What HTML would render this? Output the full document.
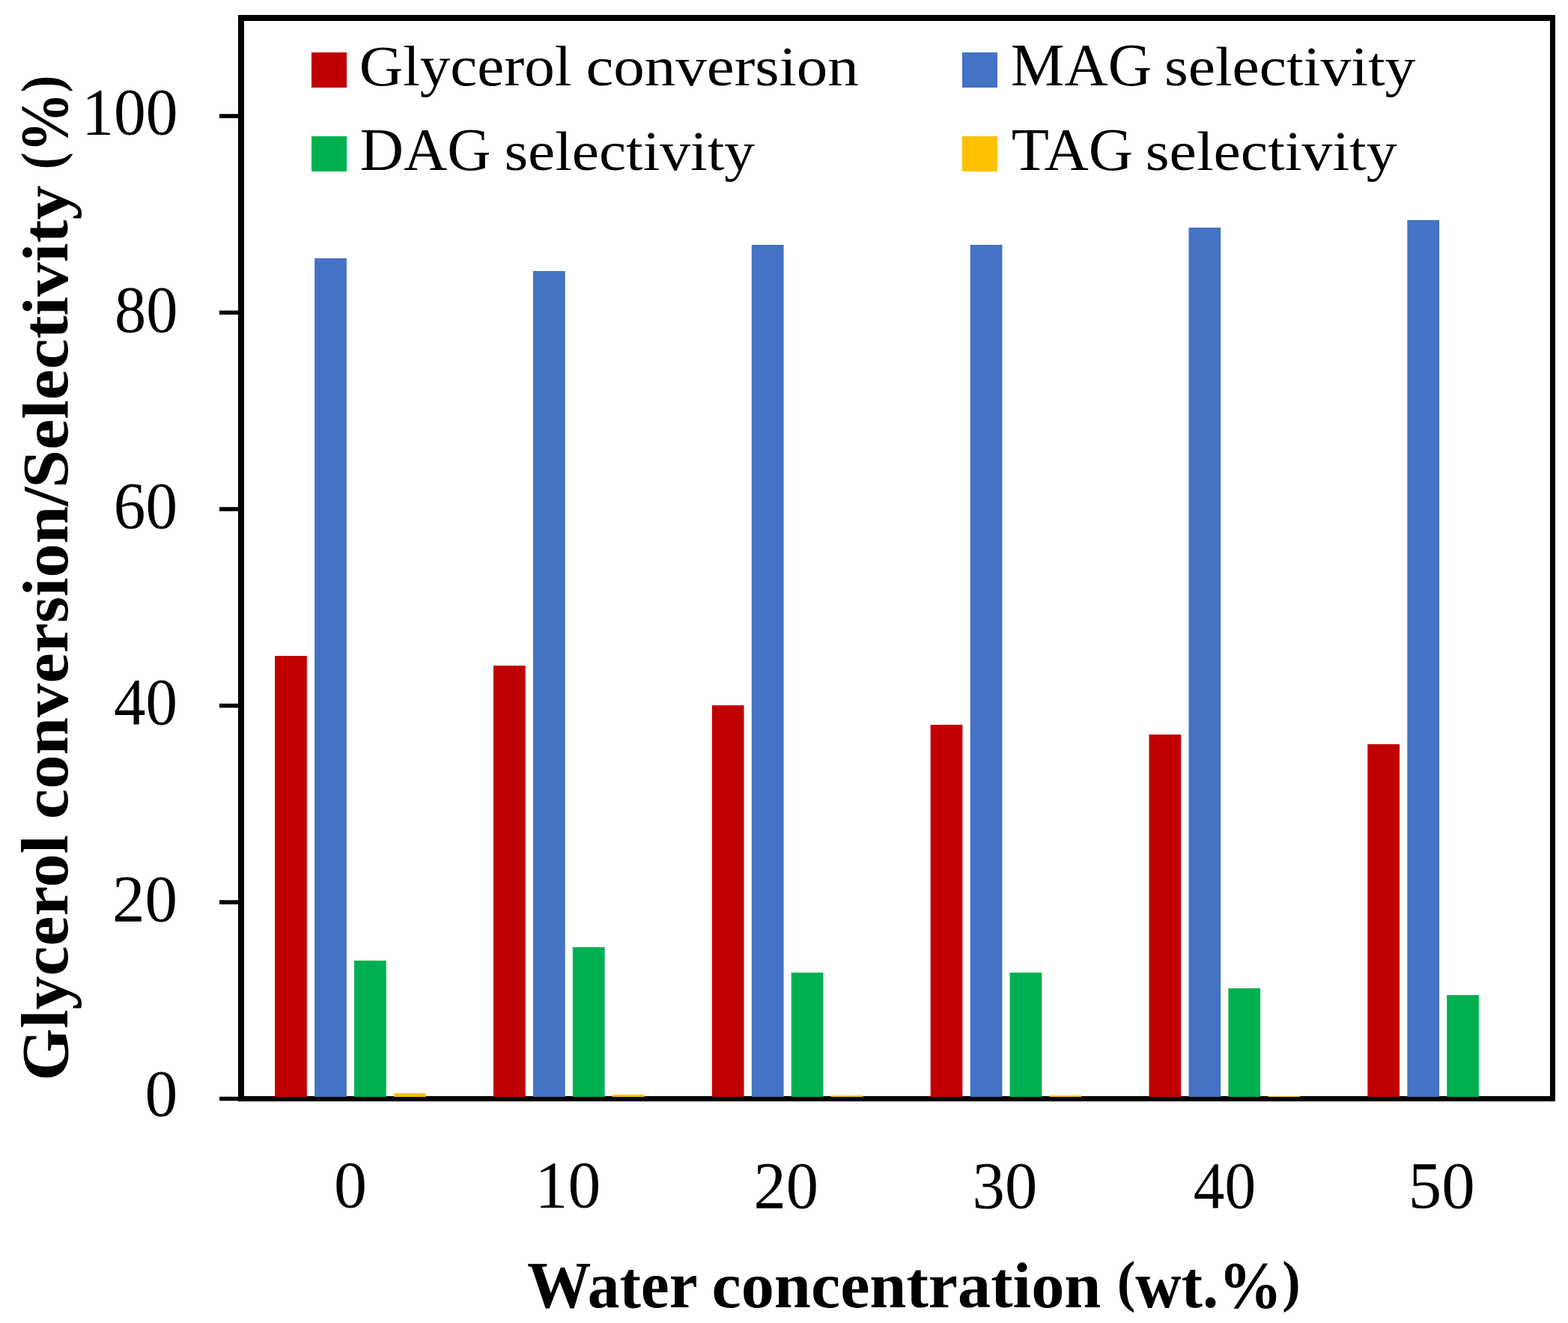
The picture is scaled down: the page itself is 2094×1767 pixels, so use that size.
<!DOCTYPE html>
<html><head><meta charset="utf-8"><title>Glycerol conversion / selectivity vs water concentration</title>
<style>html,body{margin:0;padding:0;background:#fff;} body{width:2094px;height:1767px;overflow:hidden;} svg{display:block;}</style>
</head><body>
<svg width="2094" height="1767" viewBox="0 0 2094 1767">
<rect x="0" y="0" width="2094" height="1767" fill="#fff"/>
<g fill="#000">
<rect x="318" y="20" width="1759" height="8"/>
<rect x="318" y="20" width="8" height="1451"/>
<rect x="2070" y="20" width="7" height="1451"/>
<rect x="318" y="1464" width="1759" height="7"/>
<rect x="293" y="1464.75" width="27" height="5.5"/>
<rect x="293" y="1202.25" width="27" height="5.5"/>
<rect x="293" y="939.75" width="27" height="5.5"/>
<rect x="293" y="677.25" width="27" height="5.5"/>
<rect x="293" y="414.75" width="27" height="5.5"/>
<rect x="293" y="152.25" width="27" height="5.5"/>
</g>
<g fill="#C00000">
<rect x="367.10" y="876" width="42.75" height="589"/>
<rect x="658.95" y="889" width="42.75" height="576"/>
<rect x="950.80" y="942" width="42.75" height="523"/>
<rect x="1242.65" y="968" width="42.75" height="497"/>
<rect x="1534.50" y="981" width="42.75" height="484"/>
<rect x="1826.35" y="994" width="42.75" height="471"/>
</g>
<g fill="#4472C4">
<rect x="420.10" y="345" width="42.75" height="1120"/>
<rect x="711.95" y="362" width="42.75" height="1103"/>
<rect x="1003.80" y="327" width="42.75" height="1138"/>
<rect x="1295.65" y="327" width="42.75" height="1138"/>
<rect x="1587.50" y="304" width="42.75" height="1161"/>
<rect x="1879.35" y="294" width="42.75" height="1171"/>
</g>
<g fill="#00B050">
<rect x="473.00" y="1283" width="42.75" height="182"/>
<rect x="764.85" y="1265" width="42.75" height="200"/>
<rect x="1056.70" y="1299" width="42.75" height="166"/>
<rect x="1348.55" y="1299" width="42.75" height="166"/>
<rect x="1640.40" y="1320" width="42.75" height="145"/>
<rect x="1932.25" y="1329" width="42.75" height="136"/>
</g>
<g fill="#FFC000">
<rect x="526.00" y="1460" width="42.75" height="5"/>
<rect x="817.85" y="1462" width="42.75" height="3"/>
<rect x="1109.70" y="1463" width="42.75" height="2"/>
<rect x="1401.55" y="1463" width="42.75" height="2"/>
<rect x="1693.40" y="1464" width="42.75" height="1"/>
</g>
<rect x="416" y="70" width="47" height="47" fill="#C00000"/>
<rect x="1285" y="70" width="47" height="47" fill="#4472C4"/>
<rect x="416" y="182" width="47" height="47" fill="#00B050"/>
<rect x="1285" y="182" width="47" height="47" fill="#FFC000"/>
<g font-family="Liberation Serif, serif" fill="#000">
<text x="109.20" y="178.88" font-size="88.00" textLength="128.20" lengthAdjust="spacingAndGlyphs">100</text>
<text x="153.00" y="442.50" font-size="88.00" textLength="84.40" lengthAdjust="spacingAndGlyphs">80</text>
<text x="151.80" y="704.70" font-size="88.00" textLength="85.20" lengthAdjust="spacingAndGlyphs">60</text>
<text x="152.00" y="966.57" font-size="88.00" textLength="85.00" lengthAdjust="spacingAndGlyphs">40</text>
<text x="150.00" y="1230.15" font-size="88.00" textLength="87.00" lengthAdjust="spacingAndGlyphs">20</text>
<text x="193.40" y="1490.35" font-size="88.00" textLength="43.80" lengthAdjust="spacingAndGlyphs">0</text>
<text x="446.00" y="1612.35" font-size="88.00" textLength="44.00" lengthAdjust="spacingAndGlyphs">0</text>
<text x="714.60" y="1612.35" font-size="88.00" textLength="87.60" lengthAdjust="spacingAndGlyphs">10</text>
<text x="1006.60" y="1612.50" font-size="88.00" textLength="86.40" lengthAdjust="spacingAndGlyphs">20</text>
<text x="1298.60" y="1612.50" font-size="88.00" textLength="86.60" lengthAdjust="spacingAndGlyphs">30</text>
<text x="1593.80" y="1612.50" font-size="88.00" textLength="83.40" lengthAdjust="spacingAndGlyphs">40</text>
<text x="1880.80" y="1613.00" font-size="88.00" textLength="89.00" lengthAdjust="spacingAndGlyphs">50</text>
<text x="479.80" y="114.00" font-size="77.00" textLength="283.50" lengthAdjust="spacingAndGlyphs">Glycerol</text>
<text x="782.50" y="114.00" font-size="75.00" textLength="364.20" lengthAdjust="spacingAndGlyphs">conversion</text>
<text x="1349.70" y="114.00" font-size="79.70" textLength="188.20" lengthAdjust="spacingAndGlyphs">MAG</text>
<text x="1554.90" y="114.00" font-size="75.00" textLength="335.50" lengthAdjust="spacingAndGlyphs">selectivity</text>
<text x="480.80" y="227.00" font-size="79.70" textLength="174.70" lengthAdjust="spacingAndGlyphs">DAG</text>
<text x="673.40" y="227.00" font-size="75.00" textLength="334.60" lengthAdjust="spacingAndGlyphs">selectivity</text>
<text x="1350.80" y="227.00" font-size="79.70" textLength="162.20" lengthAdjust="spacingAndGlyphs">TAG</text>
<text x="1529.80" y="227.00" font-size="75.00" textLength="335.90" lengthAdjust="spacingAndGlyphs">selectivity</text>
<text x="704.00" y="1745.50" font-size="88.50" font-weight="bold" textLength="227.70" lengthAdjust="spacingAndGlyphs">Water</text>
<text x="950.50" y="1745.50" font-size="86.50" font-weight="bold" textLength="519.90" lengthAdjust="spacingAndGlyphs">concentration</text>
<text x="1491.80" y="1745.50" font-size="88.00" font-weight="bold" textLength="244.90" lengthAdjust="spacingAndGlyphs"><tspan font-size="76.3" dy="-8.4">(</tspan><tspan dy="8.4">wt.%</tspan><tspan font-size="76.3" dy="-8.4">)</tspan></text>
<text transform="translate(89.50,1443.50) rotate(-90)" x="0" y="0" font-size="88.00" font-weight="bold" textLength="328.30" lengthAdjust="spacingAndGlyphs">Glycerol</text>
<text transform="translate(89.50,1094.00) rotate(-90)" x="0" y="0" font-size="86.50" font-weight="bold" textLength="443.40" lengthAdjust="spacingAndGlyphs">conversion/</text>
<text transform="translate(89.50,651.90) rotate(-90)" x="0" y="0" font-size="87.50" font-weight="bold" textLength="404.10" lengthAdjust="spacingAndGlyphs">Selectivity</text>
<text transform="translate(89.50,226.20) rotate(-90)" x="0" y="0" font-size="90.00" font-weight="bold" textLength="125.40" lengthAdjust="spacingAndGlyphs"><tspan font-size="76.4" dy="-8.5">(</tspan><tspan dy="8.5">%</tspan><tspan font-size="76.4" dy="-8.5">)</tspan></text>
</g>
</svg>
</body></html>
